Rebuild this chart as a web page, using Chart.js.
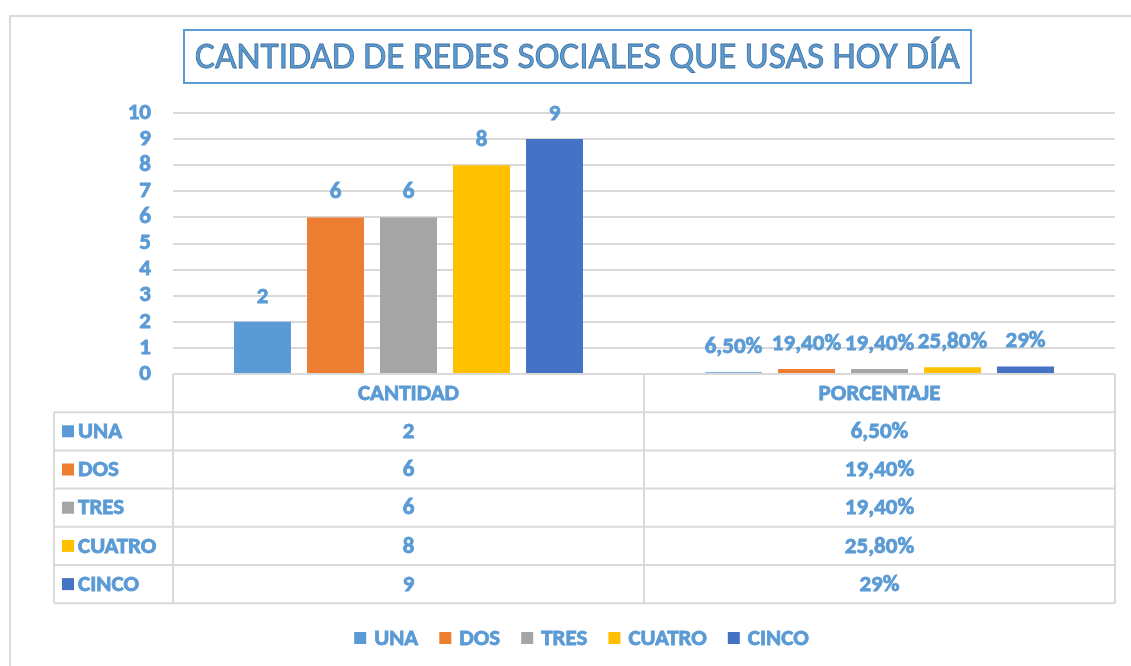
<!DOCTYPE html>
<html><head><meta charset="utf-8">
<script src="https://cdn.jsdelivr.net/npm/chart.js@4.4.1/dist/chart.umd.min.js"></script>
<style>html,body{margin:0;padding:0;background:#fff}#wrap{width:1131px;height:666px;position:relative}</style>
</head><body><div id="wrap"><canvas id="c" width="1131" height="666"></canvas></div>
<script>
const chartTitle = 'CANTIDAD DE REDES SOCIALES QUE USAS HOY DÍA';
const categories = ['CANTIDAD', 'PORCENTAJE'];
const seriesNames = ['UNA', 'DOS', 'TRES', 'CUATRO', 'CINCO'];
const cantidad = [2, 6, 6, 8, 9];
const porcentaje = [0.065, 0.194, 0.194, 0.258, 0.29];
const cantidadLabels = ['2', '6', '6', '8', '9'];
const porcentajeLabels = ['6,50%', '19,40%', '19,40%', '25,80%', '29%'];
const yTicks = [0, 1, 2, 3, 4, 5, 6, 7, 8, 9, 10];
const seriesColors = ['#5b9bd5', '#ed7d31', '#a5a5a5', '#ffc000', '#4472c4'];

const TEXT = '#5b9bd5';
const GRID = '#d9d9d9';
const FONT = 'Carlito, Calibri, Lato, sans-serif';
const FS = 23;
const SW = 0.8;

const datasets = seriesNames.map((n, i) => ({
  label: n,
  data: [cantidad[i], porcentaje[i]],
  backgroundColor: seriesColors[i],
  borderWidth: 0,
  categoryPercentage: 0.775,
  barPercentage: 0.78
}));
const labelTable = [cantidadLabels, porcentajeLabels];

function boldText(ctx, t, x, y) {
  ctx.fillText(t, x, y);
  ctx.strokeText(t, x, y);
}

const extras = {
  id: 'extras',
  afterDraw(chart) {
    const ctx = chart.ctx, ca = chart.chartArea, xs = chart.scales.x;
    ctx.save();
    // outer frame
    ctx.strokeStyle = GRID; ctx.lineWidth = 2;
    ctx.beginPath(); ctx.moveTo(10, 666); ctx.lineTo(10, 16); ctx.lineTo(1131, 16); ctx.stroke();
    // title box
    ctx.strokeStyle = TEXT; ctx.lineWidth = 2;
    ctx.strokeRect(184, 30, 787, 53);
    let fs = 32;
    ctx.font = `${fs}px ${FONT}`;
    fs = fs * 765 / ctx.measureText(chartTitle).width;
    ctx.font = `${fs}px ${FONT}`;
    ctx.textAlign = 'center'; ctx.textBaseline = 'middle';
    ctx.fillStyle = TEXT; ctx.fillText(chartTitle, 577.5, 59);
    ctx.strokeStyle = '#41719c'; ctx.lineWidth = 0.8; ctx.strokeText(chartTitle, 577.5, 59);

    // data labels
    ctx.font = `bold ${FS}px ${FONT}`;
    ctx.fillStyle = TEXT; ctx.strokeStyle = TEXT; ctx.lineWidth = SW;
    chart.data.datasets.forEach((ds, di) => {
      const meta = chart.getDatasetMeta(di);
      meta.data.forEach((el, ci) => {
        boldText(ctx, labelTable[ci][di], el.x, el.y - 25);
      });
    });

    // data table
    const rowH = 38.2;
    const top = ca.bottom;
    const L0 = 54;
    const mids = [ca.left];
    for (let i = 1; i < categories.length; i++) mids.push((xs.getPixelForValue(i - 1) + xs.getPixelForValue(i)) / 2);
    mids.push(ca.right);
    const bottom = top + rowH * (seriesNames.length + 1);
    ctx.strokeStyle = GRID; ctx.lineWidth = 2;
    ctx.beginPath();
    ctx.moveTo(ca.left, top); ctx.lineTo(ca.right, top);
    for (let r = 1; r <= seriesNames.length + 1; r++) {
      ctx.moveTo(L0, top + r * rowH); ctx.lineTo(ca.right, top + r * rowH);
    }
    ctx.moveTo(L0, top + rowH); ctx.lineTo(L0, bottom);
    mids.forEach(x => { ctx.moveTo(x, top); ctx.lineTo(x, bottom); });
    ctx.stroke();

    ctx.fillStyle = TEXT; ctx.strokeStyle = TEXT; ctx.lineWidth = SW;
    ctx.textBaseline = 'middle'; ctx.textAlign = 'center';
    categories.forEach((c, ci) => {
      const cx = xs.getPixelForValue(ci);
      boldText(ctx, c, cx, top + rowH / 2 + 1);
      seriesNames.forEach((s, si) => {
        boldText(ctx, labelTable[ci][si], cx, top + rowH * (si + 1.5) + 1);
      });
    });
    ctx.textAlign = 'left';
    seriesNames.forEach((s, si) => {
      const cy = top + rowH * (si + 1.5);
      ctx.fillStyle = seriesColors[si];
      ctx.fillRect(62, cy - 6, 12, 12);
      ctx.fillStyle = TEXT;
      boldText(ctx, s, 78, cy + 1);
    });

    // legend
    const sq = 12, gap = 8, itemGap = 21;
    const widths = seriesNames.map(s => ctx.measureText(s).width);
    const total = widths.reduce((a, w) => a + sq + gap + w, 0) + itemGap * (seriesNames.length - 1);
    let x = 581.5 - total / 2;
    const ly = 638;
    seriesNames.forEach((s, si) => {
      ctx.fillStyle = seriesColors[si];
      ctx.fillRect(x, ly - 6, sq, sq);
      ctx.fillStyle = TEXT;
      boldText(ctx, s, x + sq + gap, ly + 1);
      x += sq + gap + widths[si] + itemGap;
    });
    ctx.restore();
  }
};

new Chart(document.getElementById('c'), {
  type: 'bar',
  data: { labels: categories, datasets },
  options: {
    responsive: false,
    animation: false,
    devicePixelRatio: 1,
    layout: { padding: { left: 0, top: 113, right: 16, bottom: 292 } },
    plugins: { legend: { display: false }, title: { display: false }, tooltip: { enabled: false } },
    scales: {
      x: { display: false },
      y: {
        min: 0, max: 10,
        afterFit(s) { s.width = 173; },
        afterBuildTicks(s) { s.ticks = yTicks.map(v => ({ value: v })); },
        border: { display: false },
        grid: { color: GRID, lineWidth: 2, drawTicks: false },
        ticks: { color: TEXT, padding: 22, autoSkip: false, stepSize: 1, textStrokeColor: TEXT, textStrokeWidth: SW, font: { family: FONT, size: FS, weight: 'bold' } }
      }
    }
  },
  plugins: [extras]
});
</script></body></html>
